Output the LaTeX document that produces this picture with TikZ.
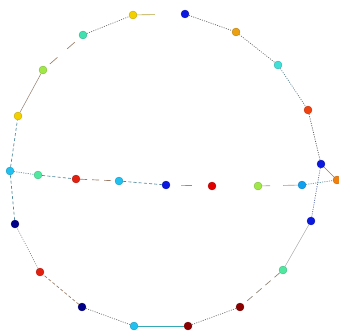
\documentclass[tikz,border=0pt]{standalone}
\usepackage{tikz}
\usetikzlibrary{calc}

\definecolor{cyellow}{HTML}{F2D000}
\definecolor{cblue}{HTML}{0A18E0}
\definecolor{corange}{HTML}{EAA010}
\definecolor{cturq}{HTML}{40E0D8}
\definecolor{credor}{HTML}{F04210}
\definecolor{cdorange}{HTML}{F08010}
\definecolor{cgreen}{HTML}{50E8A0}
\definecolor{cdred}{HTML}{8C0000}
\definecolor{ccyan}{HTML}{20C0F0}
\definecolor{cnavy}{HTML}{000088}
\definecolor{cred}{HTML}{E22010}
\definecolor{cyg}{HTML}{A0E848}
\definecolor{cteal}{HTML}{40E0B0}
\definecolor{clblue}{HTML}{10A0F0}
\definecolor{egray}{HTML}{707070}
\definecolor{eteal}{HTML}{4A8499}
\definecolor{ebrown}{HTML}{9A7A62}

\tikzset{
  vert/.style={circle,inner sep=0pt,minimum size=8pt,fill=#1,draw=#1!75!black,line width=0.3pt},
  edge/.style={line width=0.65pt},
  dotedge/.style={edge,line width=0.7pt,dash pattern=on 1pt off 1.3pt},
  dashedge/.style={edge,dash pattern=on 3pt off 2.2pt},
  longedge/.style={edge,dash pattern=on 7pt off 5pt},
}

\begin{document}
\begin{tikzpicture}[x=1pt,y=-1pt]
\useasboundingbox (0,0) rectangle (339,331);
% ring
\foreach \n/\x/\y/\c in {y1/133/15/cyellow, b1/185/14/cblue, o1/236/32/corange,
  c1/278/65/cturq, r1/308/110/credor, b2/321/164/cblue, o2/337/180/cdorange,
  b3/311/221/cblue, g1/283/270/cgreen, dr1/240/307/cdred, dr2/188/326/cdred,
  c2/134/326/ccyan, n1/82/307/cnavy, r2/40/272/cred, n2/15/224/cnavy,
  c3/10/171/ccyan, y2/18/116/cyellow, yg1/43/70/cyg, t1/83/35/cteal}{
  \node[vert=\c] (\n) at (\x,\y) {};
}
% chord
\foreach \n/\x/\y/\c in {g2/38/175/cgreen, r3/76/179/cred, c4/119/181/ccyan,
  b4/166/185/cblue, r4/212/186/red!88!black, yg2/258/186/cyg, lb/302/185/clblue}{
  \node[vert=\c] (\n) at (\x,\y) {};
}
\draw[edge,olive!70!brown!80,shorten >=26pt] (y1) -- (b1);
\draw[dotedge,egray!85!black] (b1) -- (o1);
\draw[dotedge,egray] (o1) -- (c1);
\draw[dotedge,eteal!70!gray] (c1) -- (r1);
\draw[dotedge,egray!70!black] (r1) -- (b2);
\draw[edge,ebrown] (b2) -- (o2);
\draw[dotedge,eteal!60!blue!60!gray] (b2) -- (b3);
\draw[edge,gray!70,line width=0.45pt] (b3) -- (g1);
\draw[longedge,gray!80!brown] (g1) -- (dr1);
\draw[dotedge,egray] (dr1) -- (dr2);
\draw[edge,eteal!70!cyan] (dr2) -- (c2);
\draw[dotedge,egray] (c2) -- (n1);
\draw[dashedge,ebrown] (n1) -- (r2);
\draw[dotedge,egray,line width=0.5pt] (r2) -- (n2);
\draw[dashedge,eteal] (n2) -- (c3);
\draw[dashedge,eteal] (c3) -- (y2);
\draw[edge,ebrown!70!gray,line width=0.5pt] (y2) -- (yg1);
\draw[edge,ebrown,dash pattern=on 0pt off 5pt on 10pt off 8pt] (yg1) -- (t1);
\draw[dotedge,egray] (t1) -- (y1);
\draw[dotedge,eteal] (c3) -- (g2);
\draw[dashedge,eteal] (g2) -- (r3);
\draw[longedge,ebrown] (r3) -- (c4);
\draw[dashedge,eteal] (c4) -- (b4);
\draw[edge,egray!80,shorten <=11pt,shorten >=16pt] (b4) -- (r4);
\draw[edge,gray!60!brown!80,dash pattern=on 8pt off 13pt on 20pt off 0pt] (yg2) -- (lb);
\draw[dotedge,eteal] (lb) -- (o2);
\end{tikzpicture}
\end{document}
